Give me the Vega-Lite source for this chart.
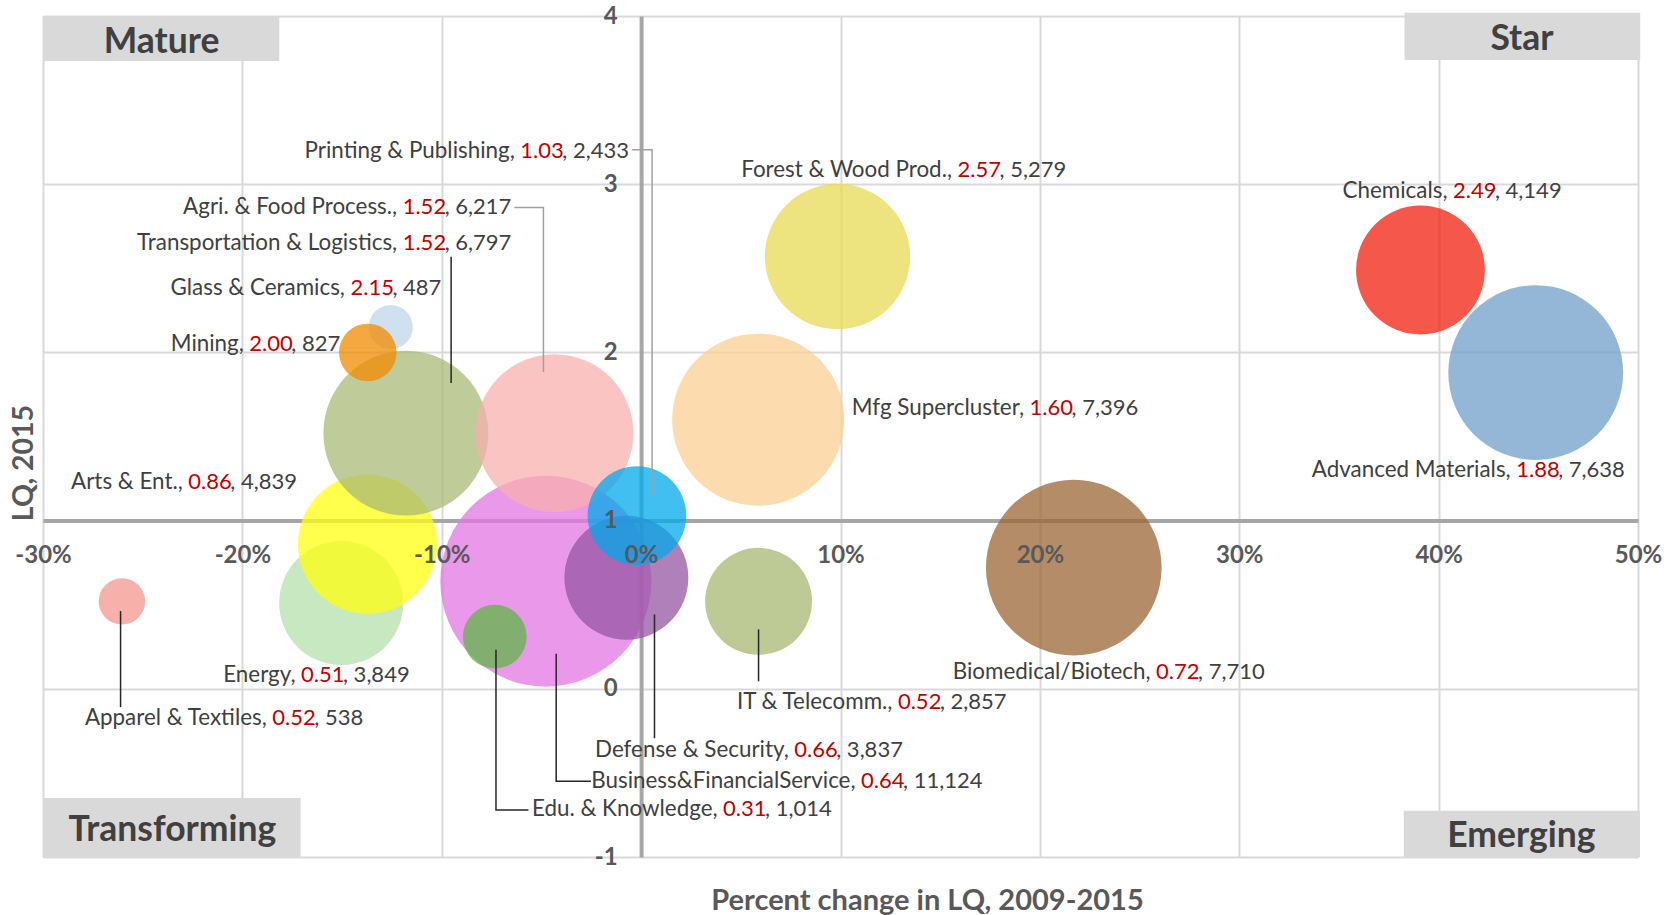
{
  "$schema": "https://vega.github.io/schema/vega-lite/v6.json",
  "width": 1595,
  "height": 841,
  "autosize": {"type": "none"},
  "padding": {"left": 43, "top": 16, "right": 37, "bottom": 58},
  "background": "white",
  "config": {"view": {"stroke": null}, "font": "Lato"},
  "datasets": {
    "clusters": [
      {"name": "Energy", "pct": -0.1504, "lq": 0.51, "emp": 3849, "lx": -0.1706, "ly": 0.082},
      {"name": "Arts & Ent.", "pct": -0.1372, "lq": 0.86, "emp": 4839, "lx": -0.2271, "ly": 1.231},
      {"name": "Transportation & Logistics", "pct": -0.118, "lq": 1.52, "emp": 6797, "lx": -0.1196, "ly": 2.652},
      {"name": "Glass & Ceramics", "pct": -0.1256, "lq": 2.15, "emp": 487, "lx": -0.1458, "ly": 2.381},
      {"name": "Mining", "pct": -0.1371, "lq": 2.0, "emp": 827, "lx": -0.1965, "ly": 2.05},
      {"name": "Apparel & Textiles", "pct": -0.2604, "lq": 0.52, "emp": 538, "lx": -0.185, "ly": -0.175},
      {"name": "Business&FinancialService", "pct": -0.0478, "lq": 0.64, "emp": 11124, "lx": 0.1103, "ly": -0.546},
      {"name": "Agri. & Food Process.", "pct": -0.0434, "lq": 1.52, "emp": 6217, "lx": -0.1196, "ly": 2.866},
      {"name": "Edu. & Knowledge", "pct": -0.0734, "lq": 0.31, "emp": 1014, "lx": 0.0411, "ly": -0.716},
      {"name": "Defense & Security", "pct": -0.0074, "lq": 0.66, "emp": 3837, "lx": 0.0768, "ly": -0.364},
      {"name": "Printing & Publishing", "pct": -0.0021, "lq": 1.03, "emp": 2433, "lx": -0.0606, "ly": 3.199},
      {"name": "IT & Telecomm.", "pct": 0.0589, "lq": 0.52, "emp": 2857, "lx": 0.1288, "ly": -0.077},
      {"name": "Mfg Supercluster", "pct": 0.0587, "lq": 1.6, "emp": 7396, "lx": 0.1948, "ly": 1.668},
      {"name": "Biomedical/Biotech", "pct": 0.217, "lq": 0.72, "emp": 7710, "lx": 0.2583, "ly": 0.1},
      {"name": "Forest & Wood Prod.", "pct": 0.0985, "lq": 2.57, "emp": 5279, "lx": 0.1587, "ly": 3.084},
      {"name": "Advanced Materials", "pct": 0.4487, "lq": 1.88, "emp": 7638, "lx": 0.4389, "ly": 1.301},
      {"name": "Chemicals", "pct": 0.3909, "lq": 2.49, "emp": 4149, "lx": 0.4072, "ly": 2.961}
    ],
    "leaders": [
      {"name": "Printing & Publishing", "seq": 0, "px": -0.0045, "py": 3.205},
      {"name": "Printing & Publishing", "seq": 1, "px": 0.0055, "py": 3.205},
      {"name": "Printing & Publishing", "seq": 2, "px": 0.0055, "py": 1.144},
      {"name": "Agri. & Food Process.", "seq": 0, "px": -0.0636, "py": 2.861},
      {"name": "Agri. & Food Process.", "seq": 1, "px": -0.049, "py": 2.861},
      {"name": "Agri. & Food Process.", "seq": 2, "px": -0.049, "py": 1.883},
      {"name": "Transportation & Logistics", "seq": 0, "px": -0.0953, "py": 2.568},
      {"name": "Transportation & Logistics", "seq": 1, "px": -0.0953, "py": 1.818},
      {"name": "Apparel & Textiles", "seq": 0, "px": -0.2611, "py": 0.462},
      {"name": "Apparel & Textiles", "seq": 1, "px": -0.2611, "py": -0.109},
      {"name": "Defense & Security", "seq": 0, "px": 0.0067, "py": 0.442},
      {"name": "Defense & Security", "seq": 1, "px": 0.0067, "py": -0.294},
      {"name": "Business&FinancialService", "seq": 0, "px": -0.0426, "py": 0.208},
      {"name": "Business&FinancialService", "seq": 1, "px": -0.0426, "py": -0.55},
      {"name": "Business&FinancialService", "seq": 2, "px": -0.0252, "py": -0.55},
      {"name": "Edu. & Knowledge", "seq": 0, "px": -0.0728, "py": 0.232},
      {"name": "Edu. & Knowledge", "seq": 1, "px": -0.0728, "py": -0.72},
      {"name": "Edu. & Knowledge", "seq": 2, "px": -0.0565, "py": -0.72},
      {"name": "IT & Telecomm.", "seq": 0, "px": 0.0589, "py": 0.353},
      {"name": "IT & Telecomm.", "seq": 1, "px": 0.0589, "py": 0.045}
    ],
    "quadrants": [
      {"q": "Mature", "x1": -0.3, "x2": -0.1815, "y1": 4.0, "y2": 3.733, "tx": -0.2405, "ty": 3.854},
      {"q": "Star", "x1": 0.3829, "x2": 0.5011, "y1": 4.02, "y2": 3.738, "tx": 0.4418, "ty": 3.867},
      {"q": "Transforming", "x1": -0.3, "x2": -0.1708, "y1": -0.649, "y2": -1.0, "tx": -0.2351, "ty": -0.834},
      {"q": "Emerging", "x1": 0.3825, "x2": 0.501, "y1": -0.725, "y2": -1.0, "tx": 0.4415, "ty": -0.871}
    ]
  },
  "resolve": {"axis": {"x": "independent", "y": "independent"}},
  "layer": [
    {
      "data": {"name": "quadrants"},
      "mark": {"type": "rect", "color": "#d9d9d9", "clip": false},
      "encoding": {
        "x": {"field": "x1", "type": "quantitative",
          "scale": {"domain": [-0.3, 0.5], "nice": false, "zero": false},
          "axis": {"orient": "bottom", "offset": -336.4, "values": [-0.3, -0.2, -0.1, 0, 0.1, 0.2, 0.3, 0.4, 0.5],
            "grid": true, "gridColor": "#d9d9d9", "gridWidth": 2, "domain": true, "domainColor": "#a6a6a6", "domainWidth": 4,
            "labels": false, "ticks": false, "title": null, "zindex": 0}},
        "x2": {"field": "x2"},
        "y": {"field": "y1", "type": "quantitative",
          "scale": {"domain": [-1, 4], "nice": false, "zero": false},
          "axis": {"orient": "left", "offset": -598.1, "values": [-1, 0, 1, 2, 3, 4],
            "grid": true, "gridColor": "#d9d9d9", "gridWidth": 2, "domain": true, "domainColor": "#a6a6a6", "domainWidth": 4,
            "labels": false, "ticks": false, "title": null, "zindex": 0}},
        "y2": {"field": "y2"}
      }
    },
    {
      "data": {"name": "quadrants"},
      "mark": {"type": "text", "font": "Lato", "fontSize": 35.5, "fontWeight": "bold", "color": "#404040", "align": "center", "baseline": "middle", "dy": 1, "clip": false},
      "encoding": {
        "x": {"field": "tx", "type": "quantitative", "axis": null},
        "y": {"field": "ty", "type": "quantitative", "axis": null},
        "text": {"field": "q"}
      }
    },
    {
      "data": {"name": "clusters"},
      "mark": {"type": "circle", "opacity": 0.75, "strokeWidth": 0},
      "encoding": {
        "x": {"field": "pct", "type": "quantitative", "axis": null},
        "y": {"field": "lq", "type": "quantitative", "axis": null},
        "size": {"field": "emp", "type": "quantitative", "scale": {"domain": [0, 11124], "range": [0, 44521]}, "legend": null},
        "color": {"field": "name", "type": "nominal", "legend": null,
          "scale": {
            "domain": ["Energy", "Arts & Ent.", "Transportation & Logistics", "Glass & Ceramics", "Mining", "Apparel & Textiles", "Business&FinancialService", "Agri. & Food Process.", "Edu. & Knowledge", "Defense & Security", "Printing & Publishing", "IT & Telecomm.", "Mfg Supercluster", "Biomedical/Biotech", "Forest & Wood Prod.", "Advanced Materials", "Chemicals"],
            "range": ["#b6e0ae", "#ffff10", "#aaba76", "#bfd6e8", "#f38b00", "#f6968e", "#e376e2", "#f7b0ac", "#5fb547", "#9656a4", "#00aaeb", "#a7b872", "#fbd093", "#9b6736", "#e7db54", "#709fca", "#f21f0e"]
          }}
      }
    },
    {
      "data": {"name": "leaders"},
      "transform": [{"filter": "datum.name == 'Printing & Publishing' || datum.name == 'Agri. & Food Process.'"}],
      "mark": {"type": "line", "color": "#a0a0a0", "strokeWidth": 1.5},
      "encoding": {
        "x": {"field": "px", "type": "quantitative", "axis": null},
        "y": {"field": "py", "type": "quantitative", "axis": null},
        "detail": {"field": "name"},
        "order": {"field": "seq"}
      }
    },
    {
      "data": {"name": "leaders"},
      "transform": [{"filter": "datum.name != 'Printing & Publishing' && datum.name != 'Agri. & Food Process.'"}],
      "mark": {"type": "line", "color": "#262626", "strokeWidth": 1.5},
      "encoding": {
        "x": {"field": "px", "type": "quantitative", "axis": null},
        "y": {"field": "py", "type": "quantitative", "axis": null},
        "detail": {"field": "name"},
        "order": {"field": "seq"}
      }
    },
    {
      "data": {"name": "clusters"},
      "transform": [{"calculate": "datum.name + ','", "as": "t1"}],
      "mark": {"type": "text", "font": "Lato", "fontSize": 22.4, "color": "#404040", "align": "right", "baseline": "middle", "dx": -5.5},
      "encoding": {
        "x": {"field": "lx", "type": "quantitative", "axis": null},
        "y": {"field": "ly", "type": "quantitative", "axis": null},
        "text": {"field": "t1"}
      }
    },
    {
      "data": {"name": "clusters"},
      "mark": {"type": "text", "font": "Lato", "fontSize": 22, "color": "#c00000", "align": "left", "baseline": "middle"},
      "encoding": {
        "x": {"field": "lx", "type": "quantitative", "axis": null},
        "y": {"field": "ly", "type": "quantitative", "axis": null},
        "text": {"field": "lq", "type": "quantitative", "format": ".2f"}
      }
    },
    {
      "data": {"name": "clusters"},
      "transform": [{"calculate": "', ' + format(datum.emp, ',')", "as": "t3"}],
      "mark": {"type": "text", "font": "Lato", "fontSize": 22, "color": "#404040", "align": "left", "baseline": "middle", "dx": 42},
      "encoding": {
        "x": {"field": "lx", "type": "quantitative",
          "axis": {"orient": "bottom", "offset": -336.4, "values": [-0.3, -0.2, -0.1, 0, 0.1, 0.2, 0.3, 0.4, 0.5],
            "grid": false, "domain": false, "ticks": false,
            "labelExpr": "round(datum.value*100) + '%'", "labelFont": "Lato", "labelFontSize": 24, "labelFontWeight": "bold", "labelColor": "#595959",
            "labelPadding": 35, "labelBaseline": "middle", "labelFlush": false, "labelOverlap": false,
            "title": "Percent change in LQ, 2009-2015", "titleFont": "Lato", "titleFontSize": 29, "titleFontWeight": "bold", "titleColor": "#595959",
            "titleX": 884, "titleY": 380, "titleAlign": "center", "titleBaseline": "middle", "zindex": 1}},
        "y": {"field": "ly", "type": "quantitative",
          "axis": {"orient": "left", "offset": -598.1, "values": [-1, 0, 1, 2, 3, 4],
            "grid": false, "domain": false, "ticks": false,
            "labelExpr": "'' + datum.value", "labelFont": "Lato", "labelFontSize": 24, "labelFontWeight": "bold", "labelColor": "#595959",
            "labelPadding": 24, "labelBaseline": "middle", "labelFlush": false, "labelOverlap": false,
            "title": "LQ, 2015", "titleFont": "Lato", "titleFontSize": 28.5, "titleFontWeight": "bold", "titleColor": "#595959",
            "titleX": -617.3, "titleY": 446.5, "titleAngle": 270, "titleAlign": "center", "titleBaseline": "middle", "zindex": 1}},
        "text": {"field": "t3"}
      }
    }
  ]
}
